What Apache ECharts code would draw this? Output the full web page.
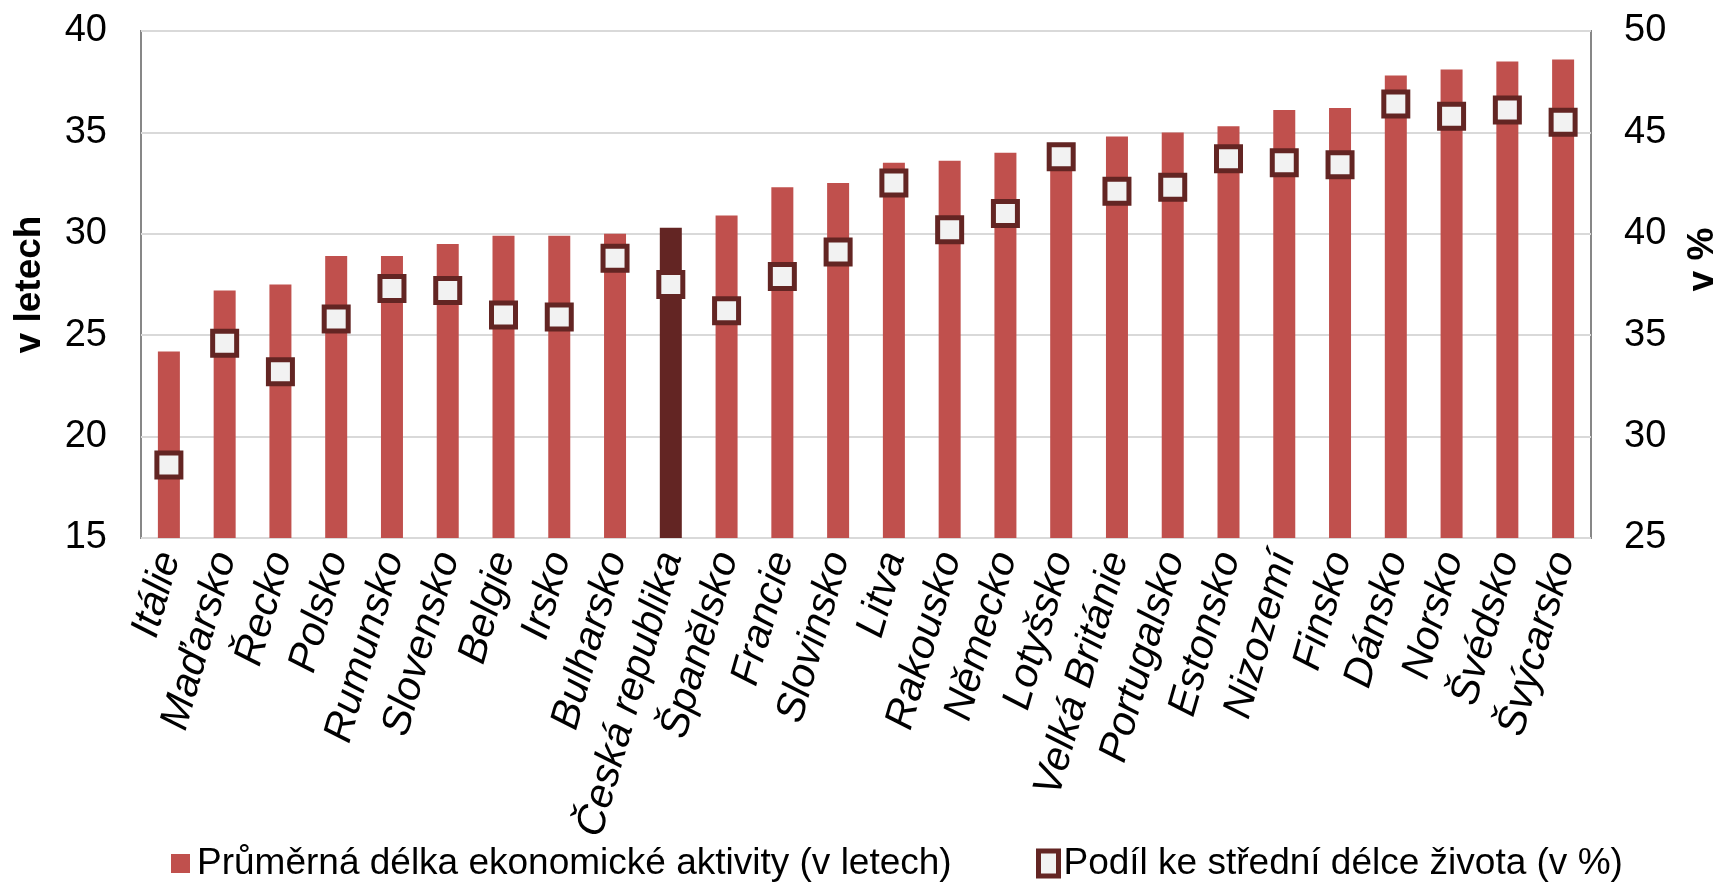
<!DOCTYPE html>
<html>
<head>
<meta charset="utf-8">
<script src="https://cdn.jsdelivr.net/npm/echarts@6/dist/echarts.min.js"></script>
<style>
html,body{margin:0;padding:0;background:#fff;}
#chart{width:1729px;height:883px;}
</style>
</head>
<body>
<div id="chart"></div>
<script>
const categories = ['Itálie','Maďarsko','Řecko','Polsko','Rumunsko','Slovensko','Belgie','Irsko','Bulharsko','Česká republika','Španělsko','Francie','Slovinsko','Litva','Rakousko','Německo','Lotyšsko','Velká Británie','Portugalsko','Estonsko','Nizozemí','Finsko','Dánsko','Norsko','Švédsko','Švýcarsko'];
const activityYears = [24.2, 27.2, 27.5, 28.9, 28.9, 29.5, 29.9, 29.9, 30.0, 30.3, 30.9, 32.3, 32.5, 33.5, 33.6, 34.0, 34.3, 34.8, 35.0, 35.3, 36.1, 36.2, 37.8, 38.1, 38.5, 38.6];
const lifeShare = [28.6, 34.6, 33.2, 35.8, 37.3, 37.2, 36.0, 35.9, 38.8, 37.5, 36.2, 37.9, 39.1, 42.5, 40.2, 41.0, 43.8, 42.1, 42.3, 43.7, 43.5, 43.4, 46.4, 45.8, 46.1, 45.5];
const highlighted = 'Česká republika';
const seriesNames = ['Průměrná délka ekonomické aktivity (v letech)', 'Podíl ke střední délce života (v %)'];
const leftTicks = {min: 15, max: 40, interval: 5};
const rightTicks = {min: 25, max: 50, interval: 5};

const FONT = "'Liberation Sans', Arial, sans-serif";
const chart = echarts.init(document.getElementById('chart'), null, {renderer: 'canvas'});
const barData = activityYears.map((v, i) => categories[i] === highlighted ? {value: v, itemStyle: {color: '#632523'}} : v);

chart.setOption({
  animation: false,
  backgroundColor: '#fff',
  grid: {left: 141, right: 119, top: 31, bottom: 345, show: true, borderColor: '#878787', borderWidth: 2, backgroundColor: 'transparent'},
  legend: [
    {data: [seriesNames[0]], left: 166, top: 840, itemWidth: 19, itemHeight: 19, icon: 'rect',
     textStyle: {fontFamily: FONT, fontSize: 37, color: '#000', padding: [0,0,0,2]},
     itemStyle: {color: '#c0504d', borderWidth: 0}},
    {data: [seriesNames[1]], left: 1031, top: 840, itemWidth: 20, itemHeight: 25, icon: 'rect',
     textStyle: {fontFamily: FONT, fontSize: 37, color: '#000', padding: [0,0,0,0]},
     itemStyle: {color: '#f2f2f2', borderColor: '#632523', borderWidth: 5}}
  ],
  xAxis: {
    type: 'category', data: categories,
    axisLine: {show: false}, axisTick: {show: false},
    axisLabel: {interval: 0, rotate: 74, fontFamily: FONT, fontStyle: 'italic', fontSize: 41, color: '#000', margin: 15}
  },
  yAxis: [
    {type: 'value', min: leftTicks.min, max: leftTicks.max, interval: leftTicks.interval,
     name: 'v letech', nameLocation: 'middle', nameRotate: 90, nameGap: 93,
     nameTextStyle: {fontFamily: FONT, fontWeight: 'bold', fontSize: 37, color: '#000'},
     axisLine: {show: false}, axisTick: {show: false},
     axisLabel: {fontFamily: FONT, fontSize: 38, color: '#000', margin: 34},
     splitLine: {lineStyle: {color: '#d9d9d9', width: 2}}},
    {type: 'value', min: rightTicks.min, max: rightTicks.max, interval: rightTicks.interval, position: 'right',
     name: 'v %', nameLocation: 'middle', nameRotate: 90, nameGap: 93,
     nameTextStyle: {fontFamily: FONT, fontWeight: 'bold', fontSize: 37, color: '#000', padding: [0,0,0,50]},
     axisLine: {show: false}, axisTick: {show: false},
     axisLabel: {fontFamily: FONT, fontSize: 38, color: '#000', margin: 33},
     splitLine: {show: false}}
  ],
  series: [
    {name: seriesNames[0], type: 'bar', data: barData, barWidth: 22,
     itemStyle: {color: '#c0504d'}},
    {name: seriesNames[1], type: 'line', yAxisIndex: 1, data: lifeShare,
     symbol: 'rect', symbolSize: 24, showSymbol: true,
     lineStyle: {width: 0, opacity: 0},
     itemStyle: {color: '#f2f2f2', borderColor: '#632523', borderWidth: 5}, z: 5}
  ]
});
</script>
</body>
</html>
